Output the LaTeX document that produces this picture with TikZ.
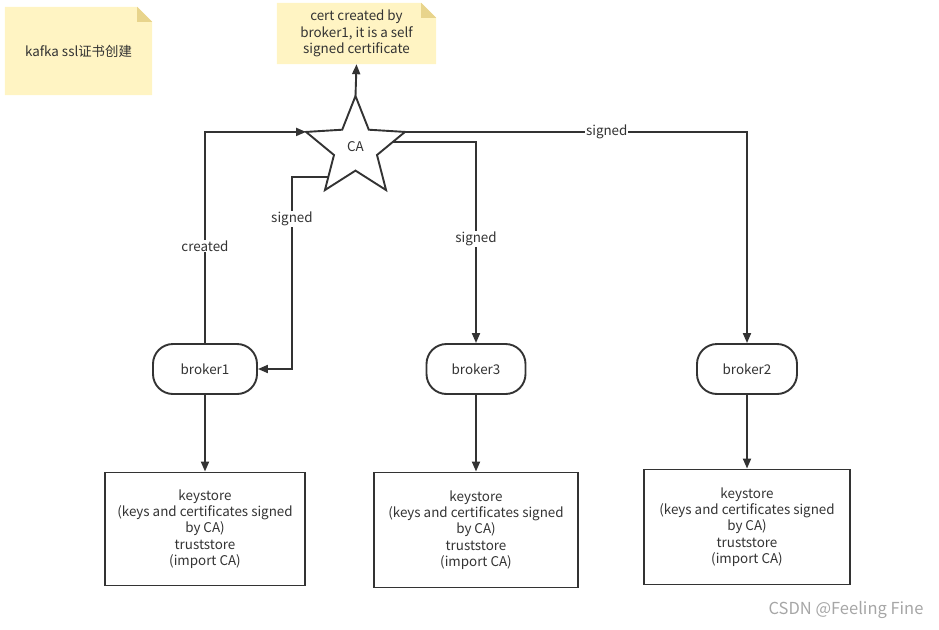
\documentclass[tikz,border=0pt]{standalone}
\usepackage{fontspec}
\setmainfont{Noto Sans CJK SC}
\usetikzlibrary{shapes.geometric,arrows.meta,calc,backgrounds}
\definecolor{ink}{HTML}{333333}
\definecolor{notefill}{HTML}{FFF4C3}
\definecolor{notefold}{HTML}{E8D48C}
\tikzset{
  broker/.style={draw=ink, line width=1.9pt, rounded corners=20pt, minimum height=50pt, text=ink, font=\fontsize{13.4}{15}\selectfont},
  store/.style={draw=ink, line width=1.9pt, minimum height=113pt, align=center, text=ink, font=\fontsize{13.4}{16.3}\selectfont},
  note/.style={minimum width=147pt, minimum height=88pt, align=center, text=ink, font=\fontsize{13.4}{16.5}\selectfont, inner sep=0pt},
  conn/.style={draw=ink, line width=1.9pt, -{Triangle[length=10pt,width=8pt]}},
  lbl/.style={fill=white, inner sep=1pt, text=ink, font=\fontsize{13.4}{15}\selectfont},
}
\begin{document}
\begin{tikzpicture}[x=1pt, y=-1pt]
  \useasboundingbox (0,0) rectangle (939,629);
  % notes
  \node[note] (title) at (78.5,51) {kafka ssl证书创建};
  \node[note, minimum width=159pt, minimum height=61pt] (certnote) at (356.5,33.5) {cert created by\\broker1, it is a self\\signed certificate};
  \begin{scope}[on background layer]
    \foreach \n in {title,certnote} {
      \fill[notefill] (\n.north west) -- ([xshift=-15pt]\n.north east) -- ([yshift=-15pt]\n.north east) -- (\n.south east) -- (\n.south west) -- cycle;
      \fill[notefold] ([xshift=-15pt]\n.north east) -- ([yshift=-15pt]\n.north east) -- ([xshift=-15pt,yshift=-15pt]\n.north east) -- cycle;
    }
  \end{scope}
  % CA
  \node[star, star points=5, star point ratio=2.3, minimum size=104pt, outer sep=0pt, inner sep=0pt, draw=ink, line width=1.9pt, text=ink, font=\fontsize{13.4}{15}\selectfont] (ca) at (355.5,148) {\raisebox{4pt}{CA}};
  % brokers
  \node[broker, minimum width=104pt] (broker1) at (205,369) {broker1};
  \node[broker, minimum width=99pt] (broker3) at (476,369) {broker3};
  \node[broker, minimum width=100pt] (broker2) at (747,369) {broker2};
  % stores
  \node[store, minimum width=200pt] (store1) at (205,529) {keystore\\(keys and certificates signed\\by CA)\\truststore\\(import CA)};
  \node[store, minimum width=204pt, minimum height=115pt] (store3) at (476,530) {keystore\\(keys and certificates signed\\by CA)\\truststore\\(import CA)};
  \node[store, minimum width=206pt, minimum height=115pt] (store2) at (747,527) {keystore\\(keys and certificates signed\\by CA)\\truststore\\(import CA)};
  \node[text=gray!70, font=\fontsize{16.5}{18}\selectfont] (mark) at (846,610) {CSDN @Feeling Fine};
  % connectors
  \coordinate (s1) at ($(ca.inner point 2)!0.62!(ca.outer point 3)$);
  \coordinate (s3) at ($(ca.outer point 5)!0.45!(ca.inner point 4)$);
  \draw[conn] (broker1.north) |- (ca.outer point 2) node[lbl, pos=0.23] {created};
  \draw[conn] (s1) -| ([xshift=34pt]broker1.east) node[lbl, pos=0.61] {signed} -- (broker1.east);
  \draw[conn] (s3) -| (broker3.north) node[lbl, pos=0.74] {signed};
  \draw[conn] (ca.outer point 5) -| (broker2.north) node[lbl, pos=0.295] {signed};
  \draw[conn] (ca.outer point 1) -- (certnote.south);
  \draw[conn] (broker1.south) -- (store1.north);
  \draw[conn] (broker3.south) -- (store3.north);
  \draw[conn] (broker2.south) -- (store2.north);
\end{tikzpicture}
\end{document}
